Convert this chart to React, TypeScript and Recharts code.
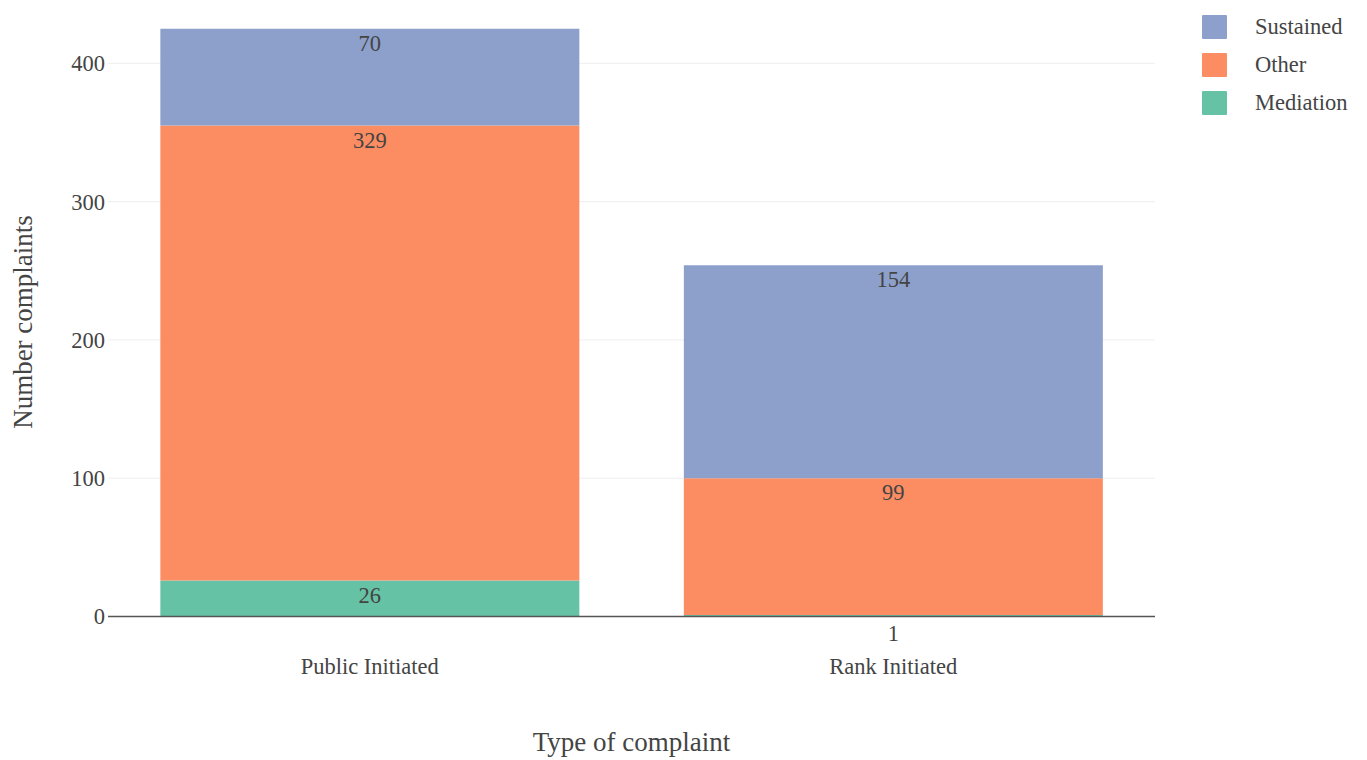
import React from 'react';
import { BarChart, Bar, XAxis, YAxis, CartesianGrid, Legend, LabelList, Label } from 'recharts';

// Complaint counts by type and outcome
const categories = ['Public Initiated', 'Rank Initiated'];
const mediation = [26, 1];
const other = [329, 99];
const sustained = [70, 154];
const yTicks = [0, 100, 200, 300, 400];
const gridValues = [100, 200, 300, 400];

const data = categories.map((category, i) => ({
  category,
  Mediation: mediation[i],
  Other: other[i],
  Sustained: sustained[i],
}));

const FONT = 'Liberation Serif, Tinos, Times New Roman, Times, serif';
const TEXT = '#444';

// Value label at the top inside each segment; tiny segments get it below the bar
const SegmentLabel = (props: any) => {
  const { x, y, width, height, value } = props;
  const cx = Number(x) + Number(width) / 2;
  const h = Math.abs(Number(height));
  const ty = h < 24 ? Number(y) + h + 9 : Number(y) + 6;
  return (
    <text x={cx} y={ty} dy="0.71em" textAnchor="middle" fill={TEXT} style={{ fontFamily: FONT, fontSize: 22.5 }}>
      {value}
    </text>
  );
};

const LegendContent = (props: any) => {
  const items = [...(props.payload || [])].reverse();
  return (
    <div style={{ fontFamily: FONT, fontSize: 22.5, color: TEXT }}>
      {items.map((it: any) => (
        <div key={it.value} style={{ display: 'flex', alignItems: 'center', height: 38 }}>
          <span style={{ display: 'inline-block', width: 25, height: 24, background: it.color, marginRight: 28, borderRadius: 1 }} />
          <span>{it.value}</span>
        </div>
      ))}
    </div>
  );
};

const YTitle = () => (
  <text transform="translate(32,322) rotate(-90)" textAnchor="middle" fill={TEXT} style={{ fontFamily: FONT, fontSize: 27 }}>
    Number complaints
  </text>
);

const tickStyle = { fill: TEXT, fontSize: 22.5, style: { fontFamily: FONT } };

export default function App() {
  return (
    <div style={{ position: 'absolute', left: 0, top: 0, fontFamily: FONT }}>
      <BarChart
        width={1367}
        height={760}
        data={data}
        margin={{ top: 8, right: 212, bottom: 0, left: 48 }}
        barCategoryGap="10%"
        style={{ fontFamily: FONT }}
      >
        <CartesianGrid vertical={false} horizontalValues={gridValues} stroke="#eee" strokeWidth={1} />
        <XAxis
          dataKey="category"
          height={143.5}
          tickSize={0}
          tickMargin={42}
          axisLine={{ stroke: '#555', strokeWidth: 1.5 }}
          tickLine={false}
          tick={tickStyle}
        >
          <Label value="Type of complaint" position="insideBottom" offset={9} fill={TEXT} fontSize={27} style={{ fontFamily: FONT }} />
        </XAxis>
        <YAxis
          type="number"
          domain={[0, 440]}
          ticks={yTicks}
          width={60}
          tickSize={0}
          tickMargin={3}
          axisLine={false}
          tickLine={false}
          tick={tickStyle}
        >
          <Label content={<YTitle />} />
        </YAxis>
        <Legend
          content={<LegendContent />}
          layout="vertical"
          align="center"
          verticalAlign="middle"
          wrapperStyle={{ left: 1202, top: 8, width: 165 }}
        />
        <Bar dataKey="Mediation" stackId="a" fill="#66c2a5" isAnimationActive={false}>
          <LabelList dataKey="Mediation" content={<SegmentLabel />} />
        </Bar>
        <Bar dataKey="Other" stackId="a" fill="#fc8d62" isAnimationActive={false}>
          <LabelList dataKey="Other" content={<SegmentLabel />} />
        </Bar>
        <Bar dataKey="Sustained" stackId="a" fill="#8da0cb" isAnimationActive={false}>
          <LabelList dataKey="Sustained" content={<SegmentLabel />} />
        </Bar>
      </BarChart>
    </div>
  );
}
